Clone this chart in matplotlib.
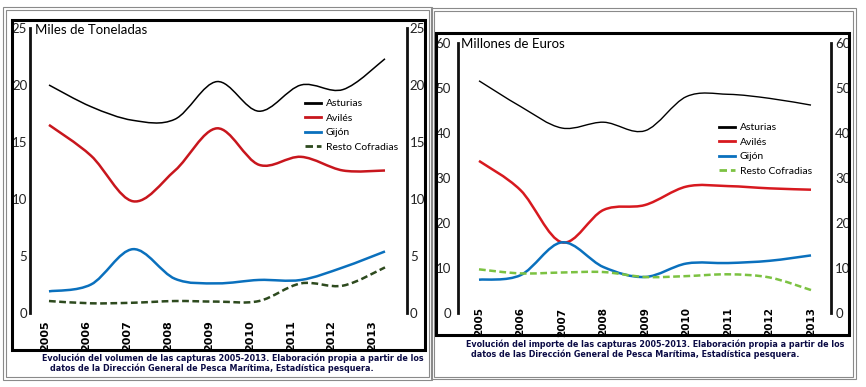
import numpy as np
import matplotlib
matplotlib.use("Agg")
import matplotlib.pyplot as plt
from matplotlib.path import Path
from matplotlib.patches import PathPatch, Rectangle
from matplotlib.lines import Line2D

W, H = 866, 387

years = np.arange(2005, 2014)
series_names = ["Asturias", "Avilés", "Gijón", "Resto Cofradias"]

# Miles de toneladas
ton_asturias = [20.0, 18.1, 16.9, 17.0, 20.3, 17.7, 20.0, 19.6, 22.3]
ton_aviles = [16.5, 13.8, 9.8, 12.5, 16.2, 13.0, 13.7, 12.5, 12.5]
ton_gijon = [1.9, 2.5, 5.6, 3.0, 2.6, 2.9, 2.9, 4.0, 5.4]
ton_resto = [1.05, 0.85, 0.9, 1.05, 1.0, 1.05, 2.6, 2.4, 4.0]

# Millones de euros
eur_asturias = [51.6, 45.9, 41.1, 42.4, 40.5, 48.1, 48.6, 47.7, 46.2]
eur_aviles = [33.8, 27.3, 15.7, 22.9, 24.0, 28.1, 28.2, 27.7, 27.4]
eur_gijon = [7.4, 8.4, 15.7, 10.2, 8.0, 11.0, 11.1, 11.6, 12.8]
eur_resto = [9.7, 8.8, 9.0, 9.1, 8.0, 8.2, 8.6, 7.9, 5.1]

caption_ton = ["Evolución del volumen de las capturas 2005-2013. Elaboración propia a partir de los",
               "datos de la Dirección General de Pesca Marítima, Estadística pesquera."]
caption_eur = ["Evolución del importe de las capturas 2005-2013. Elaboración propia a partir de los",
               "datos de las Dirección General de Pesca Marítima, Estadística pesquera."]

FONT = "Lato"
BOLD = "DejaVu Sans"
CAP_COLOR = "#0b0b45"


def px_box(l, t, r, b):
    return [l / W, 1 - b / H, (r - l) / W, (b - t) / H]


def smooth_path(x, y):
    # excel-like smoothed line: bezier segments through the data points
    pts = np.column_stack([x, y]).astype(float)
    ext = np.vstack([pts[0], pts, pts[-1]])
    verts = [pts[0]]
    codes = [Path.MOVETO]
    for i in range(len(pts) - 1):
        p0, p1, p2, p3 = ext[i], ext[i + 1], ext[i + 2], ext[i + 3]
        verts += [p1 + (p2 - p0) / 6, p2 - (p3 - p1) / 6, p2]
        codes += [Path.CURVE4] * 3
    return Path(verts, codes)


def frame(l, t, r, b, color, lw):
    fig.add_artist(Rectangle((l / W, 1 - b / H), (r - l) / W, (b - t) / H, fill=False,
                             edgecolor=color, linewidth=lw, transform=fig.transFigure))


def style_yticks(ax, yticks, ylim, pad):
    ax.set_ylim(*ylim)
    ax.set_yticks(yticks)
    ax.tick_params(axis="y", length=0, labelsize=9.5, labelcolor="#222222", pad=pad)
    for lab in ax.get_yticklabels():
        lab.set_fontfamily(FONT)


def draw_chart(box, xlim, ylim, yticks, data, styles, label_pos, xlab_size, xlab_pad, pad_l, pad_r):
    ax = fig.add_axes(px_box(*box))
    ax.set_xlim(*xlim)
    ax.patch.set_alpha(0)
    for s in ["top", "bottom"]:
        ax.spines[s].set_visible(False)
    for s in ["left", "right"]:
        ax.spines[s].set_linewidth(2.0)
        ax.spines[s].set_color("#111111")
    for vals, (color, lw, ls) in zip(data, styles):
        ax.add_patch(PathPatch(smooth_path(years, vals), fill=False, edgecolor=color,
                               linewidth=lw, linestyle=ls, capstyle="butt"))
    style_yticks(ax, yticks, ylim, pad_l)
    ax.set_xticks(label_pos)
    ax.set_xticklabels([str(y) for y in years], rotation=90, fontsize=xlab_size,
                       fontweight="bold", fontfamily=BOLD)
    ax.tick_params(axis="x", length=0, pad=xlab_pad)

    # right-hand copy of the value axis
    axr = ax.twinx()
    for s in axr.spines.values():
        s.set_visible(False)
    style_yticks(axr, yticks, ylim, pad_r)
    return ax


fig = plt.figure(figsize=(W / 100, H / 100), dpi=100)
fig.patch.set_facecolor("white")

# outer grey frames
frame(3, 7, 432, 380, "#8a8a8a", 0.8)
frame(6, 10, 429, 377, "#8a8a8a", 0.8)
frame(431, 8, 856, 379, "#8a8a8a", 0.8)
frame(434, 11, 853, 377, "#8a8a8a", 0.8)
# black chart boxes
frame(12, 20, 425, 350, "black", 2.2)
frame(436, 33, 849, 335, "black", 2.2)

styles_ton = [("black", 1.1, "-"), ("#c8161d", 1.8, "-"), ("#0a70bd", 1.8, "-"),
              ("#2d4a1e", 1.8, (0, (2.7, 1.4)))]
styles_eur = [("black", 1.0, "-"), ("#d7191f", 1.8, "-"), ("#0a70bd", 1.8, "-"),
              ("#7cc242", 1.8, (0, (2.7, 1.4)))]

# left chart: volumen
box_l = (30, 28, 407, 313)
lab_l = years[0] - 0.09 + (years - years[0]) * 0.974
ax1 = draw_chart(box_l, (2004.548, 2013.524), (0, 25), [0, 5, 10, 15, 20, 25],
                 [ton_asturias, ton_aviles, ton_gijon, ton_resto], styles_ton,
                 lab_l, 8, 5, 2, 2)
fig.text(35 / W, 1 - 30 / H, "Miles de Toneladas", fontsize=9.5, family=FONT, va="center")

# right chart: importe
box_r = (458, 43, 831, 313)
ax2 = draw_chart(box_r, (2004.494, 2013.482), (0, 60), [0, 10, 20, 30, 40, 50, 60],
                 [eur_asturias, eur_aviles, eur_gijon, eur_resto], styles_eur,
                 years, 7.5, -4, 5, 3)
fig.text(461 / W, 1 - 44 / H, "Millones de Euros", fontsize=9.5, family=FONT, va="center")

# legends
for ax, styles, (lx, ly) in [(ax1, styles_ton, (305, 99)), (ax2, styles_eur, (719, 123))]:
    handles = [Line2D([], [], color=c, lw=2.0, ls=ls) for c, lw, ls in styles]
    ax.legend(handles, series_names, loc="upper left", bbox_to_anchor=(lx / W, 1 - ly / H),
              bbox_transform=fig.transFigure, frameon=False,
              prop={"family": FONT, "size": 7.5}, handlelength=1.5, handletextpad=0.5,
              labelspacing=0.5, borderpad=0, borderaxespad=0)

# captions
for (x1, y1), (x2, y2), lines in [((42, 358), (50, 368), caption_ton),
                                  ((466, 344), (471, 354), caption_eur)]:
    fig.text(x1 / W, 1 - y1 / H, lines[0], fontsize=5.75, family=BOLD, fontweight="bold",
             color=CAP_COLOR, va="center")
    fig.text(x2 / W, 1 - y2 / H, lines[1], fontsize=5.75, family=BOLD, fontweight="bold",
             color=CAP_COLOR, va="center")

fig.savefig("out.png", dpi=100)
